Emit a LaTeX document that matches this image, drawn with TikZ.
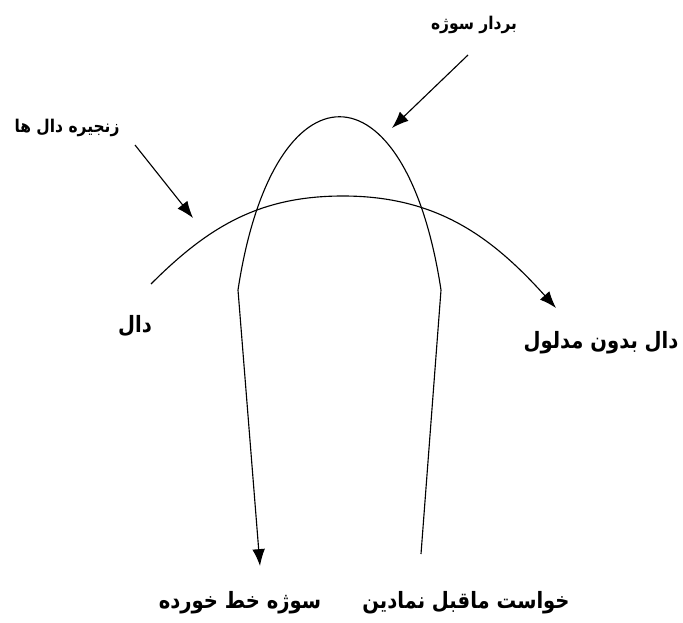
\documentclass[tikz,border=0pt]{standalone}
\usepackage{fontspec}
\usepackage{tikz}
\usetikzlibrary{arrows.meta, positioning}
\newfontfamily\arabicfont[Script=Arabic]{DejaVu Sans}
\TeXXeTstate=1

\begin{document}
\begin{tikzpicture}[x=0.025cm, y=-0.025cm, line width=0.8pt,
    lbl/.style={font=\arabicfont\bfseries\fontsize{16}{18}\selectfont, inner sep=0pt, xscale=0.87},
    lblsmall/.style={font=\arabicfont\bfseries\fontsize{12.5}{14}\selectfont, inner sep=0pt, xscale=0.88},
    tip/.style={-{Latex[length=12pt, width=9pt]}}]
    \useasboundingbox (0,0) rectangle (683,623);

    % etiquetas
    \node[lblsmall] (subjvec) at (474,25) {\beginR بردار سوژه\endR};
    \node[lblsmall] (chain) at (67,128) {\beginR زنجیره دال ها\endR};
    \node[lbl] (dal) at (135,326) {\beginR دال\endR};
    \node[lbl] (dalnosig) at (601,343) {\beginR دال بدون مدلول\endR};
    \node[lbl] (barred) at (240,603) {\beginR سوژه خط خورده\endR};
    \node[lbl] (desire) at (466,603) {\beginR خواست ماقبل نمادین\endR};

    % flechas de las etiquetas
    \coordinate (vs) at (468,55);
    \coordinate (ve) at (392,128);
    \coordinate (cs) at (135,145);
    \coordinate (ce) at (193,218);
    \draw[tip] (vs) -- (ve);
    \draw[tip] (cs) -- (ce);

    % cadena de significantes
    \coordinate (ca) at (151,284);
    \coordinate (ctop) at (343,196);
    \coordinate (cb) at (556,308);
    \draw[tip] (ca) .. controls (209,226) and (260,196) .. (ctop)
        .. controls (437,196) and (492,237) .. (cb);

    % vector del sujeto
    \coordinate (sa) at (421,554);
    \coordinate (sr) at (441,290);
    \coordinate (sl) at (238,290);
    \coordinate (sb) at (260,566);
    \draw[tip] (sa) -- (sr) .. controls (406,59) and (273,59) .. (sl) -- (sb);
\end{tikzpicture}
\end{document}
